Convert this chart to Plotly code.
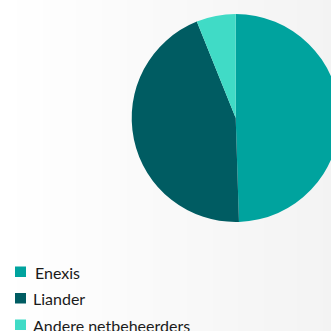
import plotly.graph_objects as go

labels = ["Enexis", "Liander", "Andere netbeheerders"]
values = [49.5, 44.4, 6.1]
colors = ["#00A39E", "#005C62", "#40DBC6"]

W, H = 340, 331
fig = go.Figure()
fig.add_trace(go.Pie(
    labels=labels, values=values, sort=False, direction="clockwise", rotation=0,
    marker=dict(colors=colors, line=dict(width=0)),
    textinfo="none", hoverinfo="label+percent", showlegend=False,
    domain=dict(x=[131.7 / W, 339.7 / W], y=[(H - 222) / H, (H - 14) / H]),
))

# background gradient (white on the left to light grey on the right)
n = 40
shapes = []
for i in range(n):
    t = i / (n - 1)
    c = round(255 - 12 * t)
    shapes.append(dict(type="rect", xref="paper", yref="paper",
                       x0=i / n, x1=(i + 1) / n + 0.002, y0=0, y1=1,
                       fillcolor=f"rgb({c},{c},{c})", line=dict(width=0), layer="below"))

# legend drawn as squares + text
annotations = []
row0, row_gap = 272, 26.5
for i, (lab, col) in enumerate(zip(labels, colors)):
    yc = row0 + i * row_gap
    shapes.append(dict(type="rect", xref="paper", yref="paper",
                       x0=15 / W, x1=26 / W, y0=(H - yc - 5) / H, y1=(H - yc + 5.5) / H,
                       fillcolor=col, line=dict(width=0), layer="above"))
    annotations.append(dict(xref="paper", yref="paper", x=(33 if i == 0 else 31) / W, y=(H - yc) / H,
                            xanchor="left", yanchor="middle", text=lab, showarrow=False,
                            font=dict(family="Lato", size=16, color="#1a1a1a")))

fig.update_layout(
    width=W, height=H, autosize=False,
    margin=dict(l=0, r=0, t=0, b=0),
    paper_bgcolor="white", plot_bgcolor="white",
    shapes=shapes, annotations=annotations,
    showlegend=False,
)
fig.write_html("out.html", post_script="document.documentElement.style.overflow='hidden';document.body.style.overflow='hidden';document.body.style.margin='0';")
